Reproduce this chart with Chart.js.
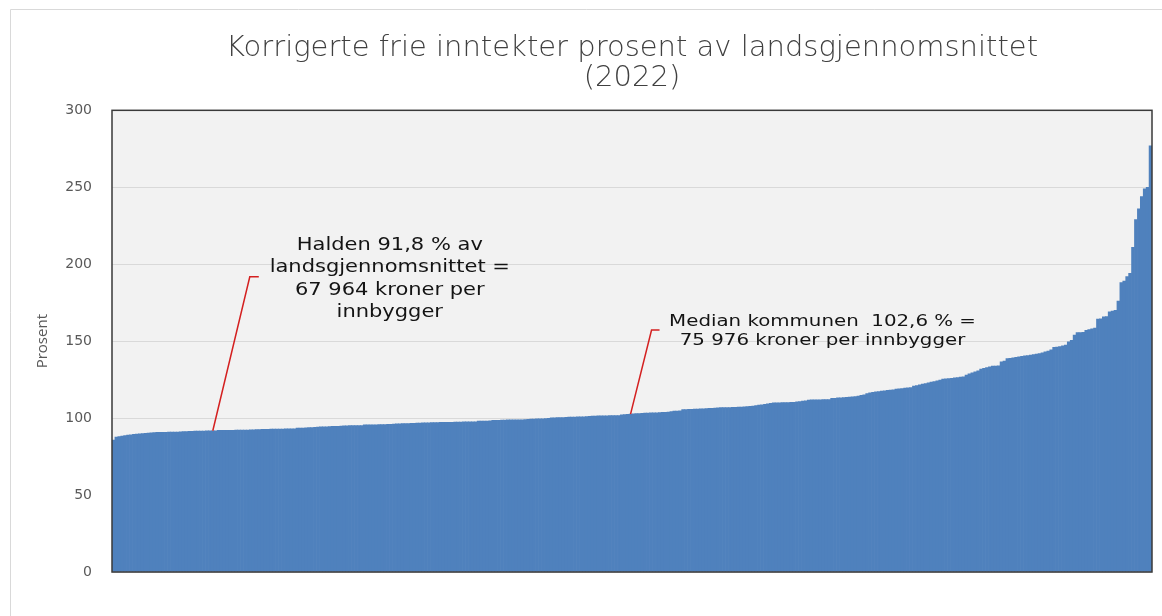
<!DOCTYPE html>
<html lang="no">
<head>
<meta charset="utf-8">
<title>Korrigerte frie inntekter prosent av landsgjennomsnittet (2022)</title>
<script src="https://cdn.jsdelivr.net/npm/chart.js@4.4.1/dist/chart.umd.min.js"></script>
<style>
  html, body { margin: 0; padding: 0; background: #ffffff; }
  canvas { display: block; }
</style>
</head>
<body>
<canvas id="c" width="1162" height="616"></canvas>
<script>
// ---------- data (kommuner sorted ascending) ----------
const chartTitle = ['Korrigerte frie inntekter prosent av landsgjennomsnittet', '(2022)'];
const yAxisTitle = 'Prosent';
const yTicks = [0, 50, 100, 150, 200, 250, 300];

const values = [
  85.7, 87.7, 88.0, 88.3, 88.7, 89.0, 89.2, 89.4, 89.6, 89.8, 90.0, 90.1, 90.3, 90.4,
  90.6, 90.7, 90.7, 90.8, 90.8, 90.9, 90.9, 91.0, 91.0, 91.1, 91.3, 91.3, 91.4, 91.4, 91.5, 91.5, 91.6, 91.6, 91.7, 91.7, 91.8, 91.8,
  92.0, 92.0, 92.0, 92.1, 92.1, 92.1, 92.2, 92.2, 92.2, 92.3, 92.3, 92.4, 92.4, 92.6, 92.6, 92.7, 92.7, 92.7, 92.8, 92.8, 92.9, 92.9, 92.9, 93.0, 93.0, 93.1, 93.1,
  93.5, 93.5, 93.6, 93.7, 93.8, 93.9, 94.0, 94.2, 94.3, 94.3, 94.4, 94.5, 94.6, 94.6, 94.7, 94.8, 95.0, 95.0, 95.1, 95.1, 95.1, 95.2, 95.2,
  95.6, 95.6, 95.7, 95.7, 95.7, 95.8, 95.8, 95.8, 95.9, 95.9, 96.1, 96.2, 96.3, 96.4, 96.4, 96.5, 96.6, 96.6, 96.7, 96.8, 97.0, 97.0, 97.0, 97.1, 97.1, 97.1, 97.2,
  97.2, 97.3, 97.3, 97.3, 97.4, 97.4, 97.4, 97.5, 97.5, 97.5, 97.6, 97.6, 98.0, 98.1, 98.1, 98.1, 98.2, 98.5, 98.6, 98.6, 98.7, 98.7, 98.8, 98.8, 98.8, 98.9, 98.9, 98.9,
  99.1, 99.2, 99.3, 99.4, 99.5, 99.6, 99.6, 99.7, 99.8, 100.2, 100.2, 100.3, 100.4, 100.4, 100.5, 100.6, 100.6, 100.7, 100.8, 100.8, 100.9, 101.0, 101.1,
  101.3, 101.3, 101.4, 101.4, 101.5, 101.5, 101.6, 101.6, 101.7, 101.7, 102.2, 102.3, 102.4, 102.6,
  102.8, 102.9, 103.0, 103.1, 103.2, 103.3, 103.4, 103.5, 103.5, 103.6, 103.7, 103.8, 103.9, 104.3, 104.5, 104.6, 104.8,
  105.6, 105.6, 105.7, 105.7, 105.8, 105.8, 106.0, 106.1, 106.2, 106.3, 106.4, 106.5, 106.7, 106.8, 106.8, 106.9, 106.9, 107.0, 107.0, 107.1, 107.1, 107.4, 107.5, 107.6, 107.8,
  108.2, 108.4, 108.7, 109.0, 109.3, 109.6, 109.9, 110.0, 110.0, 110.1, 110.1, 110.1, 110.2, 110.2, 110.6, 110.8, 111.0, 111.2,
  111.7, 111.8, 111.8, 111.9, 111.9, 112.0, 112.0, 112.1, 112.8, 112.9, 113.1, 113.2, 113.4, 113.5, 113.6, 113.8,
  114.0, 114.3, 114.8, 115.1, 116.0, 116.4, 116.7, 117.1, 117.3, 117.5, 117.7, 118.0, 118.2, 118.3, 118.8, 119.0, 119.2, 119.5, 119.7, 119.9,
  120.8, 121.2, 121.6, 122.1, 122.5, 122.9, 123.4, 123.8, 124.3, 124.7,
  125.3, 125.5, 125.7, 125.9, 126.1, 126.3, 126.6, 126.8, 128.0, 128.7, 129.4, 130.0, 130.7, 131.8, 132.3, 132.8, 133.3, 133.8, 133.8, 133.9,
  136.6, 137.0, 138.7, 138.9, 139.2, 139.5, 139.8, 140.1, 140.4, 140.7, 141.0, 141.3, 141.6, 142.0,
  142.4, 143.0, 143.5, 144.3, 146.0, 146.2, 146.5, 147.0, 147.5, 149.5, 150.6, 154.0, 155.6, 155.6, 155.8, 157.0, 157.5, 158.0, 158.5,
  164.3, 164.5, 165.8, 166.0, 169.0, 169.5, 170.0, 176.0, 188.0, 189.0, 192.0, 194.0, 211.0, 229.0, 236.0, 244.0, 249.0, 250.0, 277.0
];
// one category per kommune (rank in sorted order)
const categories = values.map((_, i) => String(i + 1));

const haldenIndex = 34;
const haldenValue = 91.8;
const haldenLines = ['Halden 91,8 % av', 'landsgjennomsnittet =', '67 964 kroner per', 'innbygger'];

const medianIndex = 177;
const medianValue = 102.6;
const medianLines = ['Median kommunen  102,6 % =', '75 976 kroner per innbygger'];

// ---------- plugins ----------
const plotFrame = {
  id: 'plotFrame',
  beforeDraw(chart, args, opts) {
    const { ctx, chartArea: a } = chart;
    ctx.save();
    ctx.strokeStyle = opts.outerColor;
    ctx.lineWidth = 1;
    ctx.beginPath();
    ctx.moveTo(10.5, chart.height);
    ctx.lineTo(10.5, 9.5);
    ctx.lineTo(chart.width, 9.5);
    ctx.stroke();
    ctx.fillStyle = opts.background;
    ctx.fillRect(a.left, a.top, a.right - a.left, a.bottom - a.top);
    ctx.restore();
  },
  afterDatasetsDraw(chart, args, opts) {
    const { ctx, chartArea: a } = chart;
    ctx.save();
    ctx.strokeStyle = opts.frameColor;
    ctx.lineWidth = opts.frameWidth;
    ctx.strokeRect(a.left, a.top, a.right - a.left, a.bottom - a.top);
    ctx.restore();
  }
};

const leaderNotes = {
  id: 'leaderNotes',
  afterDatasetsDraw(chart, args, opts) {
    const { ctx, scales: { x, y } } = chart;
    opts.notes.forEach(n => {
      const px = x.getPixelForValue(n.index);
      const py = y.getPixelForValue(n.value);
      const kx = px + n.knee[0], ky = py + n.knee[1];
      ctx.save();
      ctx.strokeStyle = opts.lineColor;
      ctx.lineWidth = opts.lineWidth;
      ctx.beginPath();
      ctx.moveTo(px, py);
      ctx.lineTo(kx, ky);
      ctx.lineTo(kx + n.tail, ky);
      ctx.stroke();
      ctx.fillStyle = opts.textColor;
      ctx.font = n.size + 'px "DejaVu Sans", sans-serif';
      ctx.textAlign = 'center';
      ctx.textBaseline = 'alphabetic';
      n.lines.forEach((t, i) => {
        ctx.save();
        ctx.translate(px + n.text[0], py + n.text[1] + i * n.lineGap);
        ctx.scale(opts.stretch, 1);
        ctx.fillText(t, 0, 0);
        ctx.restore();
      });
      ctx.restore();
    });
  }
};

// ---------- chart ----------
new Chart(document.getElementById('c'), {
  type: 'bar',
  data: {
    labels: categories,
    datasets: [{
      label: yAxisTitle,
      data: values,
      backgroundColor: '#4F81BD',
      borderWidth: 0,
      barPercentage: 1,
      categoryPercentage: 1
    }]
  },
  options: {
    responsive: false,
    animation: false,
    devicePixelRatio: 1,
    events: [],
    layout: { padding: { left: 0, right: 10, top: 0, bottom: 44 } },
    scales: {
      x: { display: false, grid: { display: false } },
      y: {
        min: yTicks[0],
        max: yTicks[yTicks.length - 1],
        afterBuildTicks: s => { s.ticks = yTicks.map(v => ({ value: v })); },
        afterFit: s => { s.width = 112; },
        border: { display: false },
        grid: { color: '#D9D9D9', lineWidth: 1, drawTicks: false },
        ticks: {
          color: '#595959',
          padding: 20,
          font: { family: '"DejaVu Sans"', size: 14 }
        },
        title: {
          display: true,
          text: yAxisTitle,
          color: '#595959',
          font: { family: '"Open Sans"', size: 15 },
          padding: { top: 34, bottom: 0 }
        }
      }
    },
    plugins: {
      legend: { display: false },
      tooltip: { enabled: false },
      title: {
        display: true,
        fullSize: false,
        text: chartTitle,
        color: '#404040',
        font: { family: '"DejaVu Sans"', size: 29, weight: 300, lineHeight: 1.04 },
        padding: { top: 33, bottom: 17 }
      },
      plotFrame: {
        background: '#F2F2F2',
        outerColor: '#D9D9D9',
        frameColor: '#3A3A3A',
        frameWidth: 1.5
      },
      leaderNotes: {
        lineColor: '#D42020',
        lineWidth: 1.5,
        textColor: '#141414',
        stretch: 1.2,
        notes: [
          { index: haldenIndex, value: haldenValue, lines: haldenLines,
            knee: [37, -154], tail: 9, text: [177, -181], lineGap: 22.5, size: 17.5 },
          { index: medianIndex, value: medianValue, lines: medianLines,
            knee: [21, -84], tail: 8, text: [192, -88], lineGap: 19, size: 16.5 }
        ]
      }
    }
  },
  plugins: [plotFrame, leaderNotes]
});
</script>
</body>
</html>
